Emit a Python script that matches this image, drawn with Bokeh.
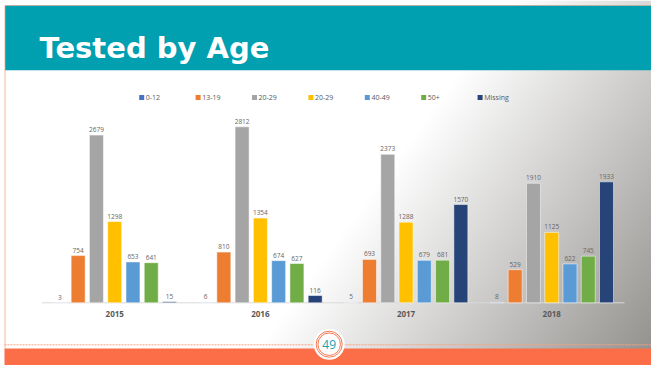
import numpy as np
from bokeh.plotting import figure
from bokeh.models import Range1d
from bokeh.core.properties import value
from bokeh.embed import file_html
from bokeh.resources import INLINE

# ---------------- data ----------------
years = ["2015", "2016", "2017", "2018"]
series_names = ["0-12", "13-19", "20-29", "20-29", "40-49", "50+", "Missing"]
series_colors = ["#4472C4", "#ED7D31", "#A5A5A5", "#FFC000", "#5B9BD5", "#70AD47", "#264478"]
v_0_12 = [3, 6, 5, 8]
v_13_19 = [754, 810, 693, 529]
v_20_29_a = [2679, 2812, 2373, 1910]
v_20_29_b = [1298, 1354, 1288, 1125]
v_40_49 = [653, 674, 679, 622]
v_50_plus = [641, 627, 681, 745]
v_missing = [15, 116, 1570, 1933]
series_values = [v_0_12, v_13_19, v_20_29_a, v_20_29_b, v_40_49, v_50_plus, v_missing]
title_text = "Tested by Age"
page_number = "49"

# ---------------- geometry (reference pixels) ----------------
W, H = 651, 365
OX, OY = 8, 8
GROUP_PX = 145.67
CENTER0_PX = 122.2
BASE_PX = 310.3
PX_PER_UNIT = 0.06259
BAR_PITCH = 18.27 / GROUP_PX
BAR_W = 14.0 / GROUP_PX


def X(px):
    return (px - CENTER0_PX) / GROUP_PX


def Y(py):
    return (BASE_PX - py) / PX_PER_UNIT


p = figure(width=W, height=H, output_backend="svg", toolbar_location=None,
           x_range=Range1d(X(OX), X(OX + W)), y_range=Range1d(Y(OY + H), Y(OY)),
           x_axis_location=None, y_axis_location=None, min_border=0,
           outline_line_color=None)
p.grid.visible = False
p.background_fill_color = "white"
p.border_fill_color = "white"

# ---------------- gradient background ----------------
xs = OX + np.arange(W) + 0.5
ys = OY + np.arange(H) + 0.5
XX, YY = np.meshgrid(xs, ys[::-1])
drop = np.clip(0.27 * XX + 0.197 * YY - 142.5, 0, None)
img = np.empty((H, W), dtype=np.uint32)
view = img.view(dtype=np.uint8).reshape((H, W, 4))
view[..., 0] = np.clip(255 - drop, 0, 255).astype(np.uint8)
view[..., 1] = np.clip(255 - drop * 1.02, 0, 255).astype(np.uint8)
view[..., 2] = np.clip(255 - drop * 1.05, 0, 255).astype(np.uint8)
view[..., 3] = 255
p.image_rgba(image=[img], x=X(OX), y=Y(OY + H), dw=X(OX + W) - X(OX), dh=Y(OY) - Y(OY + H))

# slide outline
p.multi_line(xs=[[X(12.5), X(12.5)], [X(12.5), X(667)], [X(665.5), X(665.5)]],
             ys=[[Y(13), Y(356)], [Y(13), Y(13)], [Y(13), Y(356)]],
             line_color="#F8B6A0", line_width=1)

# header
p.quad(left=[X(12.7)], right=[X(667)], top=[Y(13.3)], bottom=[Y(77.7)],
       fill_color="#00A0B0", line_color=None)
p.text(x=[X(47)], y=[Y(55.5)], text=[title_text], text_font=value("DejaVu Sans"),
       text_font_style="bold", text_font_size="29px", text_color="white",
       text_baseline="alphabetic", text_align="left")

# legend
for k, (name, color) in enumerate(zip(series_names, series_colors)):
    p.scatter(x=[X(149.2 + k * 56.4)], y=[Y(105)], marker="square", size=5,
              fill_color=color, line_color=None)
    p.text(x=[X(153.3 + k * 56.4)], y=[Y(105.3)], text=[name], text_font=value("Open Sans"),
           text_font_size="7px", text_color="#595959", text_baseline="middle", text_align="left")

# axis line
p.segment(x0=[-0.5], y0=[0], x1=[3.5], y1=[0], line_color="#D9D9D9", line_width=1)

# bars + labels
for j, (vals, color) in enumerate(zip(series_values, series_colors)):
    xpos = [i + (j - 3) * BAR_PITCH for i in range(len(years))]
    p.vbar(x=xpos, top=vals, bottom=0, width=BAR_W, fill_color=color,
           line_color="white", line_alpha=0.5, line_width=1)
    p.text(x=xpos, y=vals, text=[str(v) for v in vals], text_font=value("Open Sans"),
           text_font_size="6.5px", text_color="#666666", text_align="center",
           text_baseline="bottom", y_offset=-3)

# category labels
p.text(x=list(range(len(years))), y=[Y(321.5)] * len(years), text=years,
       text_font=value("Open Sans"), text_font_style="bold", text_font_size="8px",
       text_color="#595959", text_align="center", text_baseline="middle")

# footer
p.segment(x0=[X(12)], y0=[Y(352.3)], x1=[X(667)], y1=[Y(352.3)],
          line_color="#F7A286", line_dash="2 1", line_width=1)
p.quad(left=[X(12)], right=[X(667)], top=[Y(356)], bottom=[Y(372.7)],
       fill_color="#FB6E48", line_color=None)
p.scatter(x=[X(336.7)], y=[Y(351.7)], marker="circle", size=31,
          fill_color="white", line_color=None)
p.scatter(x=[X(336.7), X(336.7)], y=[Y(351.7), Y(351.7)], marker="circle",
          size=[26, 22.5], fill_color=None, line_color="#F47A52", line_width=1)
p.text(x=[X(336.7)], y=[Y(352.2)], text=[page_number], text_font=value("Open Sans"),
       text_font_size="12px", text_color="#1AA0B6", text_align="center",
       text_baseline="middle")

open("out.html", "w").write(file_html(p, INLINE))
